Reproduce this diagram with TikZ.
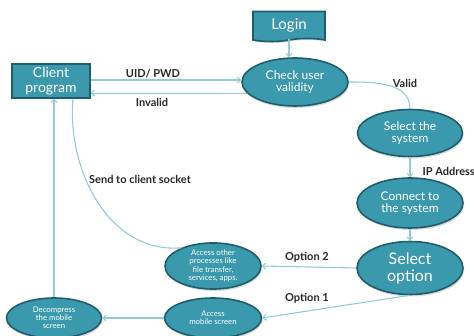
\documentclass[tikz,border=0pt]{standalone}
\usepackage{fontspec}
\setmainfont{Lato}
\usepackage{tikz}
\usetikzlibrary{arrows.meta,positioning,shapes.geometric,shapes.symbols,shadows}
\definecolor{teal1}{RGB}{58,153,173}
\definecolor{tealdk}{RGB}{30,94,108}
\definecolor{link}{RGB}{148,202,214}
\definecolor{ink}{RGB}{40,40,40}
\tikzset{
  box/.style={draw=tealdk,line width=1.6pt,fill=teal1,text=white,align=center,inner sep=0pt,
    drop shadow={shadow xshift=1pt,shadow yshift=-1.5pt,opacity=0.3}},
  oval/.style={ellipse,draw=tealdk,line width=1.6pt,fill=teal1,text=white,align=center,inner sep=0pt,
    drop shadow={shadow xshift=1pt,shadow yshift=-2pt,opacity=0.3}},
  arr/.style={-{Straight Barb[length=3pt,width=6pt]},draw=link,line width=1.1pt},
  plain/.style={draw=link,line width=1.1pt},
  lbl/.style={text=ink,font=\fontsize{11}{12}\selectfont\bfseries},
}
\begin{document}
\begin{tikzpicture}[x=1pt,y=1pt]
  \useasboundingbox (0,0) rectangle (474,336);
  % nodes
  \node[box,tape,tape bend top=none,tape bend bottom=in and out,tape bend height=3pt,
    minimum width=72,minimum height=30,font=\fontsize{15}{16}\selectfont] (login) at (289,311) {Login};
  \node[box,minimum width=78,minimum height=34,font=\fontsize{14}{14.5}\selectfont] (client) at (51,255) {Client\\program};
  \node[oval,minimum width=106,minimum height=48,font=\fontsize{12}{12.5}\selectfont] (check) at (295,254) {Check user\\validity};
  \node[oval,minimum width=105,minimum height=47,font=\fontsize{12}{12.5}\selectfont] (sys) at (410,203) {Select the\\system};
  \node[oval,minimum width=106,minimum height=50,font=\fontsize{12}{12.5}\selectfont] (conn) at (410,133) {Connect to\\the system};
  \node[oval,minimum width=106,minimum height=53,font=\fontsize{16}{17}\selectfont] (opt) at (410,68) {Select\\option};
  \node[oval,minimum width=96,minimum height=42,font=\fontsize{7.8}{8.5}\selectfont] (other) at (213,70)
    {Access other\\processes like\\file transfer,\\services, apps.};
  \node[oval,minimum width=97,minimum height=40,font=\fontsize{7.8}{8}\selectfont] (mobile) at (213,18) {Access\\mobile screen};
  \node[oval,minimum width=95,minimum height=40,font=\fontsize{7.8}{8}\selectfont] (decomp) at (54,18) {Decompress\\the mobile\\screen};

  % connectors
  \draw[arr] (login.south) -- (login.south |- check.north);
  \draw[arr] ([yshift=1]client.east) -- ([yshift=1]client.east -| check.west);
  \draw[arr] (check.193) -- (check.193 -| client.east);
  \draw[plain] (check.east) to[out=0,in=90] (sys.north);
  \draw[arr] (sys.south) -- (conn.north);
  \draw[arr] (conn.south) -- (opt.north);
  \draw[arr] (opt.west) -- (other.east);
  \draw[arr] (opt.south) -- (mobile.east);
  \draw[arr] (mobile.west) -- (decomp.east);
  \draw[arr] (decomp.north) -- (decomp.north |- client.south);
  \draw[plain] (other.150) to[out=185,in=-95] ([xshift=22]client.south);

  % labels
  \node[lbl] (l-uid) at (153,262) {UID/ PWD};
  \node[lbl] (l-inv) at (152,234) {Invalid};
  \node[lbl] (l-val) at (405,253) {Valid};
  \node[lbl,anchor=west] (l-ip) at (419,165) {IP Address};
  \node[lbl] (l-send) at (140,157) {Send to client socket};
  \node[lbl] (l-op2) at (307,79) {Option 2};
  \node[lbl] (l-op1) at (307,38) {Option 1};
\end{tikzpicture}
\end{document}
